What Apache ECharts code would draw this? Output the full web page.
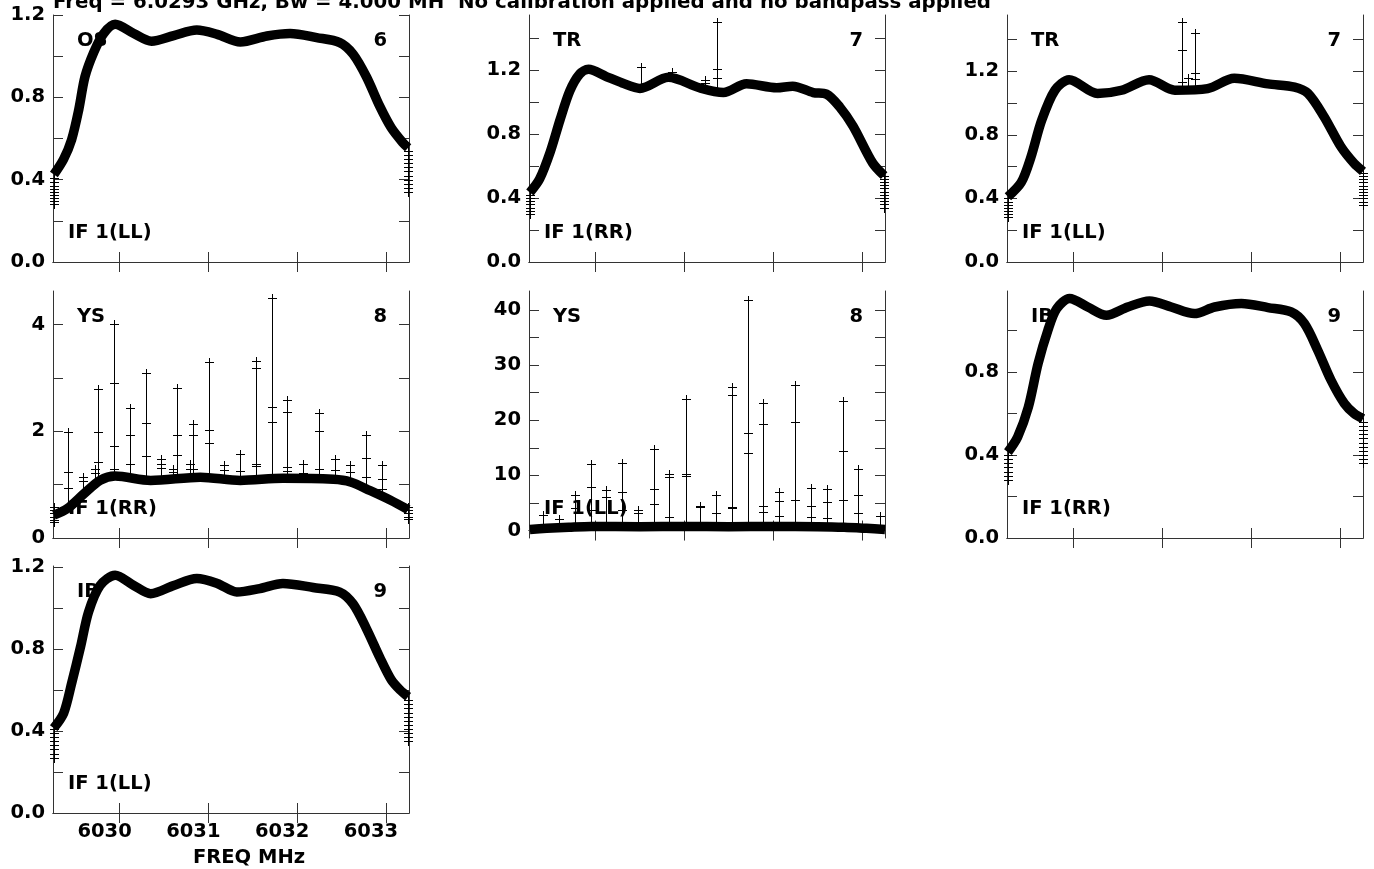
<!DOCTYPE html>
<html>
<head>
<meta charset="utf-8">
<script src="https://cdn.jsdelivr.net/npm/echarts@6/dist/echarts.min.js"></script>
<style>
html,body{margin:0;padding:0;background:#fff;}
#chart{width:1374px;height:869px;}
</style>
</head>
<body>
<div id="chart"></div>
<script>
// ---------- data ----------
const TITLE = 'Freq = 6.0293 GHz, Bw = 4.000 MH  No calibration applied and no bandpass applied';
const X_LABEL = 'FREQ MHz';
const FREQ_TICKS = [6030, 6031, 6032, 6033];

// Panel 1: OS 6, IF 1(LL)
const p1Freq = [6029.26, 6029.37, 6029.46, 6029.54, 6029.61, 6029.71, 6029.82, 6029.95, 6030.16, 6030.36, 6030.61, 6030.87, 6031.10, 6031.36, 6031.66, 6031.92, 6032.22, 6032.48, 6032.63, 6032.78, 6032.93, 6033.06, 6033.19, 6033.25];
const p1Amp  = [0.425, 0.50, 0.595, 0.74, 0.90, 1.02, 1.11, 1.155, 1.11, 1.073, 1.10, 1.127, 1.106, 1.069, 1.098, 1.11, 1.09, 1.066, 1.01, 0.90, 0.757, 0.652, 0.58, 0.555];
const p1EdgeLeft  = [0.41, 0.39, 0.37, 0.355, 0.34, 0.325, 0.31, 0.295, 0.28];
const p1EdgeRight = [0.54, 0.52, 0.50, 0.48, 0.46, 0.44, 0.42, 0.40, 0.38, 0.36, 0.34];

// Panel 2: TR 7, IF 1(RR)
const p2Freq = [6029.26, 6029.37, 6029.49, 6029.60, 6029.71, 6029.82, 6029.92, 6030.12, 6030.30, 6030.50, 6030.82, 6031.17, 6031.44, 6031.70, 6032.04, 6032.22, 6032.45, 6032.60, 6032.75, 6032.90, 6033.12, 6033.25];
const p2Amp  = [0.435, 0.52, 0.69, 0.89, 1.07, 1.175, 1.205, 1.16, 1.12, 1.086, 1.155, 1.09, 1.06, 1.115, 1.09, 1.10, 1.06, 1.05, 0.97, 0.85, 0.62, 0.54];
const p2EdgeLeft  = [0.42, 0.40, 0.38, 0.36, 0.34, 0.32, 0.30];
const p2EdgeRight = [0.54, 0.52, 0.50, 0.48, 0.46, 0.44, 0.42, 0.40, 0.38, 0.36, 0.34];
const p2SpikeFreq = [6030.51, 6030.86, 6031.23, 6031.37];
const p2SpikeBase = [1.08, 1.15, 1.08, 1.06];
const p2SpikeTop  = [1.22, 1.19, 1.14, 1.50];
const p2SpikeMarks = [[], [], [1.12], [1.21, 1.15]];

// Panel 3: TR 7, IF 1(LL)
const p3Freq = [6029.26, 6029.41, 6029.52, 6029.64, 6029.79, 6029.95, 6030.27, 6030.54, 6030.85, 6031.14, 6031.51, 6031.81, 6032.19, 6032.49, 6032.64, 6032.82, 6033.01, 6033.16, 6033.26];
const p3Amp  = [0.41, 0.50, 0.66, 0.89, 1.08, 1.146, 1.06, 1.08, 1.146, 1.08, 1.09, 1.155, 1.12, 1.10, 1.06, 0.915, 0.726, 0.62, 0.57];
const p3EdgeLeft  = [0.40, 0.38, 0.36, 0.34, 0.32, 0.30, 0.28];
const p3EdgeRight = [0.56, 0.54, 0.52, 0.50, 0.48, 0.46, 0.44, 0.42, 0.40, 0.38, 0.36];
const p3SpikeFreq = [6031.22, 6031.29, 6031.37];
const p3SpikeBase = [1.08, 1.08, 1.08];
const p3SpikeTop  = [1.51, 1.16, 1.44];
const p3SpikeMarks = [[1.335, 1.13], [], [1.19, 1.15]];

// Panel 4: YS 8, IF 1(RR)
const p4Freq = [6029.26, 6029.41, 6029.60, 6029.78, 6029.95, 6030.35, 6030.91, 6031.36, 6031.84, 6032.41, 6032.60, 6032.82, 6033.05, 6033.25];
const p4Amp  = [0.43, 0.55, 0.83, 1.08, 1.16, 1.08, 1.14, 1.08, 1.12, 1.10, 1.05, 0.89, 0.71, 0.53];
const p4EdgeLeft  = [0.58, 0.52, 0.46, 0.40, 0.34, 0.30];
const p4EdgeRight = [0.58, 0.52, 0.46, 0.40, 0.36];
const p4SpikeFreq = [6029.42, 6029.59, 6029.72, 6029.76, 6029.94, 6030.12, 6030.30, 6030.47, 6030.60, 6030.65, 6030.79, 6030.83, 6031.01, 6031.18, 6031.36, 6031.54, 6031.72, 6031.89, 6032.07, 6032.25, 6032.43, 6032.60, 6032.78, 6032.96];
const p4SpikeBase = [0.60, 0.85, 1.00, 1.05, 1.15, 1.12, 1.08, 1.08, 1.10, 1.10, 1.12, 1.12, 1.12, 1.10, 1.08, 1.10, 1.12, 1.12, 1.12, 1.10, 1.10, 1.05, 0.90, 0.70];
const p4SpikeTop  = [1.99, 1.14, 1.30, 2.80, 4.02, 2.43, 3.09, 1.48, 1.30, 2.82, 1.39, 2.14, 3.30, 1.36, 1.58, 3.31, 4.49, 2.59, 1.39, 2.34, 1.48, 1.36, 1.93, 1.36];
const p4SpikeMarks = [[1.23, 0.93], [1.06], [1.22], [1.99, 1.42], [2.91, 1.73, 1.30], [1.93, 1.38], [2.16, 1.54], [1.39, 1.31], [1.24], [1.93, 1.55], [1.30], [1.93, 1.30], [2.02, 1.78], [1.28], [1.26], [3.19, 1.39, 1.35], [2.46, 2.17], [2.37, 1.33, 1.25], [1.21], [2.00, 1.30], [1.27], [1.24], [1.50, 1.14], [1.10, 0.92]];

// Panel 5: YS 8, IF 1(LL)
const p5Freq = [6029.26, 6029.45, 6029.70, 6029.95, 6030.50, 6031.00, 6031.50, 6032.00, 6032.50, 6032.80, 6033.05, 6033.26];
const p5Amp  = [0.2, 0.4, 0.6, 0.75, 0.7, 0.75, 0.7, 0.75, 0.7, 0.6, 0.4, 0.2];
const p5SpikeFreq = [6029.41, 6029.59, 6029.77, 6029.95, 6030.12, 6030.30, 6030.48, 6030.66, 6030.83, 6031.02, 6031.18, 6031.36, 6031.54, 6031.72, 6031.89, 6032.07, 6032.25, 6032.43, 6032.61, 6032.79, 6032.96, 6033.20];
const p5SpikeBase = [0.6, 0.6, 0.7, 0.7, 0.7, 0.7, 0.7, 0.7, 0.7, 0.7, 0.7, 0.7, 0.7, 0.7, 0.7, 0.7, 0.7, 0.7, 0.7, 0.6, 0.5, 0.3];
const p5SpikeTop  = [2.77, 2.17, 6.4, 12.1, 7.3, 12.2, 3.8, 14.7, 10.3, 23.8, 4.5, 6.4, 26.0, 41.8, 23.1, 6.9, 26.3, 7.7, 7.6, 23.5, 11.1, 2.6];
const p5SpikeMarks = [[], [], [4.0], [7.8, 3.7], [6.1], [6.9, 3.7], [3.1], [7.5, 4.8], [9.7, 2.5], [10.3, 9.8], [4.2], [3.1], [24.5, 4.3, 4.0], [17.6, 14.1], [19.3, 4.5, 3.3], [5.4, 2.6], [19.7, 5.5], [4.5, 2.5], [5.2, 2.2], [14.5, 5.5], [6.5, 3.1], []];

// Panel 6: IB 9, IF 1(RR)
const p6Freq = [6029.26, 6029.37, 6029.49, 6029.60, 6029.71, 6029.81, 6029.955, 6030.16, 6030.37, 6030.61, 6030.855, 6031.10, 6031.36, 6031.59, 6031.89, 6032.19, 6032.45, 6032.60, 6032.75, 6032.90, 6033.05, 6033.16, 6033.26];
const p6Amp  = [0.414, 0.487, 0.63, 0.84, 1.0, 1.105, 1.154, 1.113, 1.073, 1.113, 1.142, 1.113, 1.081, 1.113, 1.13, 1.11, 1.089, 1.033, 0.905, 0.76, 0.648, 0.60, 0.575];
const p6EdgeLeft  = [0.40, 0.38, 0.36, 0.34, 0.32, 0.30, 0.28];
const p6EdgeRight = [0.56, 0.54, 0.52, 0.50, 0.48, 0.46, 0.44, 0.42, 0.40, 0.38, 0.36];

// Panel 7: IB 9, IF 1(LL)
const p7Freq = [6029.258, 6029.37, 6029.46, 6029.56, 6029.65, 6029.78, 6029.95, 6030.16, 6030.35, 6030.61, 6030.87, 6031.10, 6031.32, 6031.58, 6031.84, 6032.18, 6032.48, 6032.63, 6032.78, 6032.93, 6033.06, 6033.16, 6033.25];
const p7Amp  = [0.414, 0.487, 0.633, 0.81, 0.98, 1.11, 1.16, 1.11, 1.07, 1.11, 1.144, 1.12, 1.078, 1.095, 1.12, 1.10, 1.078, 1.02, 0.90, 0.76, 0.65, 0.60, 0.567];
const p7EdgeLeft  = [0.41, 0.39, 0.37, 0.35, 0.33, 0.31, 0.29, 0.27];
const p7EdgeRight = [0.55, 0.53, 0.51, 0.49, 0.47, 0.45, 0.43, 0.41, 0.39, 0.37, 0.35];

// y-axis ranges / ticks per panel
const yRanges = [[0, 1.2], [0, 1.545], [0, 1.553], [0, 4.63], [-1.35, 43.4], [0, 1.19], [0, 1.205]];
const yTickSets = [
  [0, 0.2, 0.4, 0.6, 0.8, 1.0, 1.2],
  [0, 0.2, 0.4, 0.6, 0.8, 1.0, 1.2, 1.4],
  [0, 0.2, 0.4, 0.6, 0.8, 1.0, 1.2, 1.4],
  [0, 1, 2, 3, 4],
  [0, 5, 10, 15, 20, 25, 30, 35, 40],
  [0, 0.2, 0.4, 0.6, 0.8, 1.0],
  [0, 0.2, 0.4, 0.6, 0.8, 1.0, 1.2]
];
const yLabelSets = [
  [0, 0.4, 0.8, 1.2],
  [0, 0.4, 0.8, 1.2],
  [0, 0.4, 0.8, 1.2],
  [0, 2, 4],
  [0, 10, 20, 30, 40],
  [0, 0.4, 0.8],
  [0, 0.4, 0.8, 1.2]
];
const sourceNames = ['OS', 'TR', 'TR', 'YS', 'YS', 'IB', 'IB'];
const antNumbers = ['6', '7', '7', '8', '8', '9', '9'];
const ifLabels = ['IF 1(LL)', 'IF 1(RR)', 'IF 1(LL)', 'IF 1(RR)', 'IF 1(LL)', 'IF 1(RR)', 'IF 1(LL)'];

// ---------- layout ----------
const X_MIN = 6029.25, X_MAX = 6033.26;
const colLeft = [53, 529, 1007];
const rowTop = [15, 291, 566];
const PW = 356, PH = 247;
const panelPos = [[0, 0], [0, 1], [0, 2], [1, 0], [1, 1], [1, 2], [2, 0]];
const FONT = 'DejaVu Sans';
const FS = 19.5;

const panels = [
  {freq: p1Freq, amp: p1Amp, edgeL: p1EdgeLeft, edgeR: p1EdgeRight},
  {freq: p2Freq, amp: p2Amp, edgeL: p2EdgeLeft, edgeR: p2EdgeRight, sf: p2SpikeFreq, sb: p2SpikeBase, st: p2SpikeTop, sm: p2SpikeMarks},
  {freq: p3Freq, amp: p3Amp, edgeL: p3EdgeLeft, edgeR: p3EdgeRight, sf: p3SpikeFreq, sb: p3SpikeBase, st: p3SpikeTop, sm: p3SpikeMarks},
  {freq: p4Freq, amp: p4Amp, edgeL: p4EdgeLeft, edgeR: p4EdgeRight, sf: p4SpikeFreq, sb: p4SpikeBase, st: p4SpikeTop, sm: p4SpikeMarks},
  {freq: p5Freq, amp: p5Amp, edgeL: [], edgeR: [], sf: p5SpikeFreq, sb: p5SpikeBase, st: p5SpikeTop, sm: p5SpikeMarks},
  {freq: p6Freq, amp: p6Amp, edgeL: p6EdgeLeft, edgeR: p6EdgeRight},
  {freq: p7Freq, amp: p7Amp, edgeL: p7EdgeLeft, edgeR: p7EdgeRight}
];

const grids = [], xAxes = [], yAxes = [], series = [], graphics = [];
const axisColor = '#333';
const ARM = 4.5;

function plusRender(params, api) {
  const p = api.coord([api.value(0), api.value(1)]);
  const x = Math.round(p[0]) + 0.5, y = Math.round(p[1]) + 0.5;
  return {type: 'group', children: [
    {type: 'line', shape: {x1: x - ARM, y1: y, x2: x + ARM, y2: y}, style: {stroke: '#000', lineWidth: 1}},
    {type: 'line', shape: {x1: x, y1: y - ARM, x2: x, y2: y + ARM}, style: {stroke: '#000', lineWidth: 1}}
  ]};
}
function spikeRender(params, api) {
  const a = api.coord([api.value(0), api.value(1)]);
  const b = api.coord([api.value(0), api.value(2)]);
  const x = Math.round(a[0]) + 0.5;
  return {type: 'line', shape: {x1: x, y1: a[1], x2: x, y2: b[1]}, style: {stroke: '#000', lineWidth: 1}};
}

panels.forEach((pd, i) => {
  const [r, c] = panelPos[i];
  const L = colLeft[c], T = rowTop[r];
  grids.push({left: L, top: T, width: PW, height: PH, show: false});
  const isBottomLeft = (i === 6);
  const lineSty = {show: true, lineStyle: {color: axisColor, width: 1}};
  const tickSty = {show: true, inside: true, length: 10, lineStyle: {color: axisColor, width: 1}};
  xAxes.push({
    gridIndex: i, type: 'value', min: X_MIN, max: X_MAX, position: 'bottom',
    axisLine: lineSty, axisTick: Object.assign({customValues: FREQ_TICKS}, tickSty),
    splitLine: {show: false},
    axisLabel: {show: isBottomLeft, customValues: FREQ_TICKS, margin: 9, color: '#000',
      padding: [0, 30, 0, 0],
      fontFamily: FONT, fontWeight: 'bold', fontSize: FS, formatter: v => String(Math.round(v))},
    name: isBottomLeft ? X_LABEL : '', nameLocation: 'middle', nameGap: 35,
    nameTextStyle: {color: '#000', fontFamily: FONT, fontWeight: 'bold', fontSize: FS, padding: [0, 0, 0, 36]}
  });
  xAxes.push({
    gridIndex: i, type: 'value', min: X_MIN, max: X_MAX, position: 'top',
    axisLine: lineSty, axisTick: Object.assign({customValues: FREQ_TICKS}, tickSty),
    splitLine: {show: false}, axisLabel: {show: false}
  });
  const yr = yRanges[i];
  const decimals = (yr[1] > 10 || i === 3) ? 0 : 1;
  yAxes.push({
    gridIndex: i, type: 'value', min: yr[0], max: yr[1], position: 'left',
    axisLine: lineSty, axisTick: Object.assign({customValues: yTickSets[i]}, tickSty),
    splitLine: {show: false},
    axisLabel: {show: true, customValues: yLabelSets[i], margin: 8, color: '#000',
      fontFamily: FONT, fontWeight: 'bold', fontSize: FS, formatter: v => Number(v).toFixed(decimals)}
  });
  yAxes.push({
    gridIndex: i, type: 'value', min: yr[0], max: yr[1], position: 'right',
    axisLine: lineSty, axisTick: Object.assign({customValues: yTickSets[i]}, tickSty),
    splitLine: {show: false}, axisLabel: {show: false}
  });
  const xi = 2 * i, yi = 2 * i;
  if (pd.sf) {
    series.push({
      type: 'custom', xAxisIndex: xi, yAxisIndex: yi, z: 3,
      data: pd.sf.map((f, k) => [f, pd.sb[k], pd.st[k]]),
      encode: {x: 0, y: [1, 2]}, renderItem: spikeRender, silent: true
    });
    const marks = [];
    pd.sf.forEach((f, k) => {
      marks.push([f, pd.st[k]]);
      pd.sm[k].forEach(v => marks.push([f, v]));
    });
    series.push({
      type: 'custom', xAxisIndex: xi, yAxisIndex: yi, z: 3,
      data: marks, encode: {x: 0, y: 1}, renderItem: plusRender, silent: true
    });
  }
  series.push({
    type: 'line', xAxisIndex: xi, yAxisIndex: yi, z: 4,
    data: pd.freq.map((f, k) => [f, pd.amp[k]]),
    smooth: 0.3, symbol: 'none', clip: true, silent: true,
    lineStyle: {color: '#000', width: 9.5, join: 'round', cap: 'butt'}
  });
  const edge = [];
  pd.edgeL.forEach(v => edge.push([pd.freq[0], v]));
  pd.edgeR.forEach(v => edge.push([pd.freq[pd.freq.length - 1], v]));
  if (edge.length) {
    series.push({
      type: 'custom', xAxisIndex: xi, yAxisIndex: yi, z: 5,
      data: edge, encode: {x: 0, y: 1}, renderItem: plusRender, silent: true
    });
  }
  const txt = {fill: '#000', fontFamily: FONT, fontWeight: 'bold', fontSize: FS};
  graphics.push({type: 'text', z: 1, left: L + 24, top: T + 16,
    style: Object.assign({text: sourceNames[i]}, txt)});
  graphics.push({type: 'text', z: 1, right: 1374 - (L + PW - 22), top: T + 16,
    style: Object.assign({text: antNumbers[i]}, txt)});
  graphics.push({type: 'text', z: 1, left: L + 15, top: T + PH - 39,
    style: Object.assign({text: ifLabels[i]}, txt)});
});

graphics.push({type: 'text', z: 1, left: 53, top: -7,
  style: {text: TITLE, fill: '#000', fontFamily: FONT, fontWeight: 'bold', fontSize: 19.8}});

const chart = echarts.init(document.getElementById('chart'), null, {renderer: 'canvas'});
chart.setOption({
  animation: false,
  backgroundColor: '#fff',
  grid: grids, xAxis: xAxes, yAxis: yAxes, series: series,
  graphic: {elements: graphics}
});
</script>
</body>
</html>
